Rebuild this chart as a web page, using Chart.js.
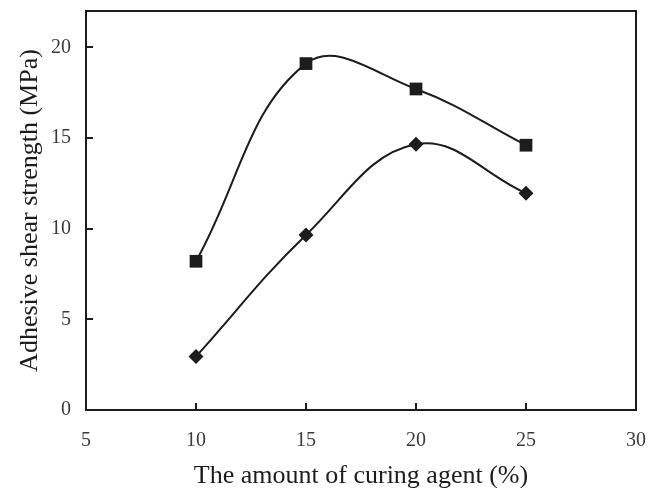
<!DOCTYPE html>
<html>
<head>
<meta charset="utf-8">
<script src="https://cdn.jsdelivr.net/npm/chart.js@4.4.1/dist/chart.umd.min.js"></script>
<style>
  html, body { margin: 0; padding: 0; background: #ffffff; }
  #wrap { width: 649px; height: 488px; position: relative; }
</style>
</head>
<body>
<div id="wrap"><canvas id="c"></canvas></div>
<script>
// Curing agent content (%) and the measured shear strengths (MPa)
const curingAgent = [10, 15, 20, 25];
const seriesSquare = [8.2, 19.1, 17.7, 14.6];
const seriesDiamond = [2.95, 9.65, 14.65, 11.95];
const xTicks = [5, 10, 15, 20, 25, 30];
const yTicks = [0, 5, 10, 15, 20];

const INK = '#1c1c1c';
const SERIF = '"Liberation Serif", "Times New Roman", serif';

const toPoints = ys => curingAgent.map((x, i) => ({ x: x, y: ys[i] }));

// Closed frame around the plot plus short inward tick marks
const framePlugin = {
  id: 'frame',
  afterDatasetsDraw(chart) {
    const { ctx, chartArea: a, scales } = chart;
    ctx.save();
    ctx.strokeStyle = INK;
    ctx.lineWidth = 2;
    ctx.strokeRect(a.left, a.top, a.right - a.left, a.bottom - a.top);
    ctx.beginPath();
    xTicks.forEach(v => {
      const px = Math.round(scales.x.getPixelForValue(v));
      ctx.moveTo(px, a.bottom);
      ctx.lineTo(px, a.bottom - 7);
    });
    yTicks.forEach(v => {
      const py = Math.round(scales.y.getPixelForValue(v));
      ctx.moveTo(a.left, py);
      ctx.lineTo(a.left + 7, py);
    });
    ctx.stroke();
    ctx.restore();
  }
};

new Chart(document.getElementById('c'), {
  type: 'line',
  data: {
    datasets: [
      {
        data: toPoints(seriesSquare),
        borderColor: INK,
        backgroundColor: INK,
        borderWidth: 2,
        tension: 0.4,
        pointStyle: 'rect',
        pointRadius: 9,
        pointBorderWidth: 0,
        fill: false
      },
      {
        data: toPoints(seriesDiamond),
        borderColor: INK,
        backgroundColor: INK,
        borderWidth: 2,
        tension: 0.4,
        pointStyle: 'rectRot',
        pointRadius: 7.5,
        pointBorderWidth: 0,
        fill: false
      }
    ]
  },
  options: {
    responsive: true,
    maintainAspectRatio: false,
    animation: false,
    layout: { padding: { top: 11, right: 13, left: 0, bottom: 0 } },
    plugins: {
      legend: { display: false },
      tooltip: { enabled: false }
    },
    scales: {
      x: {
        type: 'linear',
        min: 5,
        max: 30,
        afterBuildTicks: s => { s.ticks = xTicks.map(v => ({ value: v })); },
        afterFit: s => { s.height = 78; s.paddingLeft = 0; s.paddingRight = 0; },
        grid: { display: false, drawTicks: false },
        border: { display: false },
        ticks: {
          padding: 19,
          color: '#3a3a3a',
          font: { family: SERIF, size: 20 },
          maxRotation: 0
        },
        title: {
          display: true,
          text: 'The amount of curing agent (%)',
          color: INK,
          font: { family: SERIF, size: 26 },
          padding: { top: -4, bottom: -4 }
        }
      },
      y: {
        type: 'linear',
        min: 0,
        max: 22,
        afterBuildTicks: s => { s.ticks = yTicks.map(v => ({ value: v })); },
        afterFit: s => { s.width = 86; s.paddingTop = 0; s.paddingBottom = 0; },
        grid: { display: false, drawTicks: false },
        border: { display: false },
        ticks: {
          padding: 15,
          color: '#3a3a3a',
          font: { family: SERIF, size: 20 }
        },
        title: {
          display: true,
          text: 'Adhesive shear strength (MPa)',
          color: INK,
          font: { family: SERIF, size: 26 },
          padding: { top: 15, bottom: 0 }
        }
      }
    }
  },
  plugins: [framePlugin]
});
</script>
</body>
</html>
